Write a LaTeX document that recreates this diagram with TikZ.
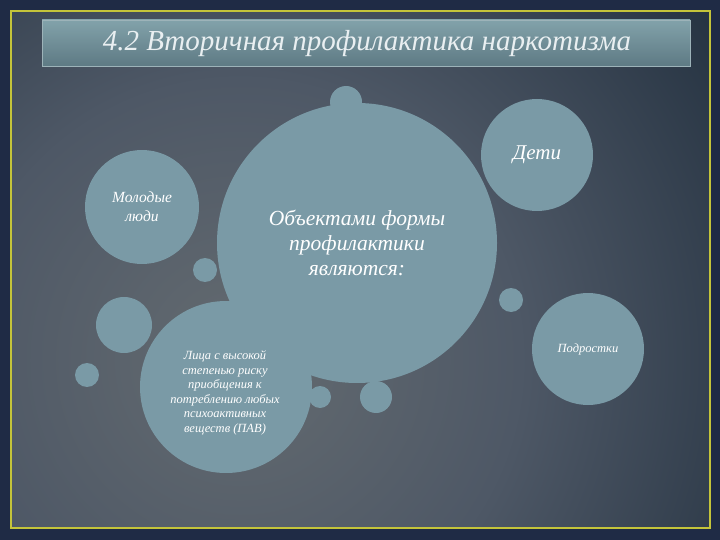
\documentclass[tikz,border=0pt]{standalone}
\usepackage{fontspec}
\setmainfont{Liberation Serif}

\definecolor{outercol}{HTML}{1F2B45}
\definecolor{framecol}{HTML}{C4C43A}
\definecolor{bgin}{HTML}{646B70}
\definecolor{bgmid}{HTML}{4E5866}
\definecolor{bgout}{HTML}{1E2C3B}
\definecolor{bubblecol}{HTML}{7A9AA6}
\definecolor{titletop}{HTML}{82A2AA}
\definecolor{titlebot}{HTML}{5E7A84}
\definecolor{titleedge}{HTML}{9DB3B9}
\definecolor{titletext}{HTML}{E9EFF1}

\pgfdeclareradialshading{slidebg}{\pgfpoint{0bp}{0bp}}{color(0bp)=(bgin); color(10bp)=(bgmid); color(23bp)=(bgout); color(50bp)=(bgout)}

\tikzset{
  bubble/.style={circle, fill=bubblecol, inner sep=0pt, text=white, align=center},
}

\begin{document}
\begin{tikzpicture}[x=1pt,y=-1pt]
      \useasboundingbox (0,0) rectangle (720,540);
      % background and frame
      \fill[outercol] (0,0) rectangle (720,540);
      \begin{scope}
        \clip (11,11) rectangle (710,528);
        \fill[bgout] (0,0) rectangle (720,540);
        \shade[shading=slidebg] (240,360) circle (700pt);
      \end{scope}
      \draw[framecol,line width=1.2pt] (11,11) rectangle (710,528);
      % title
      \shade[top color=titletop,bottom color=titlebot,draw=titleedge,line width=0.6pt] (42,20) rectangle (690,66);
      \node[font=\itshape\fontsize{29}{32}\selectfont,text=titletext] (title) at (367,44) {4.2 Вторичная профилактика наркотизма};
      % bubbles
      \node[bubble,minimum size=280pt,font=\itshape\fontsize{21.5}{25}\selectfont] (objects) at (357,243) {Объектами формы\\профилактики\\являются:};
      \node[bubble,minimum size=32pt] (dotA) at (346,102) {};
      \node[bubble,minimum size=112pt,font=\itshape\fontsize{21}{24}\selectfont] (kids) at (537,155) {Дети};
      \node[bubble,minimum size=114pt,font=\itshape\fontsize{15.5}{19}\selectfont] (youth) at (142,207) {Молодые\\люди};
      \node[bubble,minimum size=24pt] (dotB) at (205,270) {};
      \node[bubble,minimum size=56pt] (dotC) at (124,325) {};
      \node[bubble,minimum size=24pt] (dotD) at (87,375) {};
      \node[bubble,minimum size=172pt] (risk) at (226,387) {};
      \node[font=\itshape\fontsize{12.5}{14.5}\selectfont,text=white,align=center] (risktext) at (225,393) {Лица с высокой\\степенью риску\\приобщения к\\потреблению любых\\психоактивных\\веществ (ПАВ)};
      \node[bubble,minimum size=22pt] (dotE) at (320,397) {};
      \node[bubble,minimum size=32pt] (dotF) at (376,397) {};
      \node[bubble,minimum size=24pt] (dotG) at (511,300) {};
      \node[bubble,minimum size=112pt,font=\itshape\fontsize{12.5}{15}\selectfont] (teens) at (588,349) {Подростки};
    \end{tikzpicture}
\end{document}
